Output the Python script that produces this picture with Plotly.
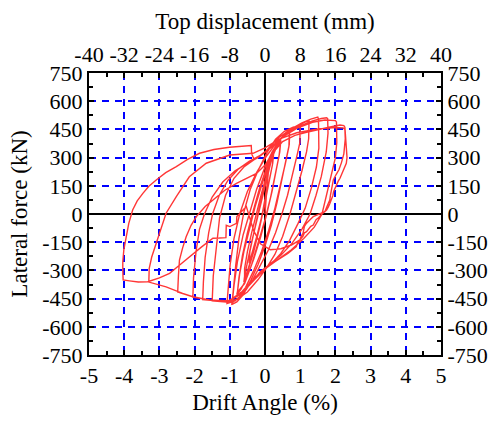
import numpy as np
import plotly.graph_objects as go

# ---------------- data (drift %, lateral force kN) ----------------
cycle_01_drift = [0.00, 0.04, 0.08, 0.10, 0.07, 0.00, -0.10, -0.22, -0.34, -0.45]
cycle_01_force = [0, 120, 200, 232, 170, 80, -20, -110, -190, -262]

cycle_02_drift = [-0.43, -0.36, -0.26, -0.15, -0.04, 0.08, 0.18, 0.25, 0.22, 0.12, 0.00, -0.15, -0.32, -0.48, -0.60]
cycle_02_force = [-200, -130, -50, 40, 130, 220, 290, 332, 270, 170, 60, -70, -200, -300, -362]

cycle_02b_drift = [-0.58, -0.50, -0.38, -0.24, -0.10, 0.04, 0.16, 0.24, 0.21, 0.10, -0.03, -0.18, -0.34, -0.48, -0.58]
cycle_02b_force = [-330, -250, -150, -40, 70, 180, 270, 318, 260, 160, 40, -90, -210, -300, -350]

cycle_03_drift = [-0.58, -0.50, -0.38, -0.25, -0.10, 0.05, 0.20, 0.34, 0.45, 0.42, 0.33, 0.20, 0.05, -0.12, -0.32, -0.52, -0.68, -0.80]
cycle_03_force = [-290, -200, -100, 0, 110, 210, 300, 360, 392, 330, 240, 120, 0, -120, -240, -340, -400, -428]

cycle_03b_drift = [-0.78, -0.72, -0.60, -0.45, -0.28, -0.10, 0.08, 0.25, 0.40, 0.44, 0.40, 0.30, 0.16, 0.00, -0.18, -0.38, -0.58, -0.78]
cycle_03b_force = [-410, -320, -200, -80, 40, 150, 250, 330, 375, 380, 310, 210, 90, -30, -150, -270, -370, -415]

cycle_04_drift = [-0.79, -0.74, -0.64, -0.50, -0.33, -0.15, 0.05, 0.25, 0.45, 0.62, 0.70, 0.69, 0.60, 0.48, 0.34, 0.18, 0.00, -0.20, -0.42, -0.62, -0.80, -0.95]
cycle_04_force = [-428, -340, -220, -100, 20, 140, 250, 340, 400, 432, 442, 370, 290, 180, 60, -60, -170, -270, -360, -430, -468, -482]

cycle_04b_drift = [-0.93, -0.88, -0.78, -0.62, -0.44, -0.24, -0.02, 0.20, 0.42, 0.60, 0.69, 0.68, 0.58, 0.44, 0.28, 0.10, -0.10, -0.32, -0.55, -0.75, -0.93]
cycle_04b_force = [-470, -380, -250, -110, 10, 130, 240, 330, 395, 425, 432, 360, 270, 150, 30, -90, -200, -300, -390, -445, -472]

cycle_05_drift = [-0.94, -0.90, -0.83, -0.74, -0.60, -0.42, -0.20, 0.05, 0.30, 0.55, 0.80, 1.00, 0.99, 0.92, 0.80, 0.64, 0.48, 0.30, 0.10, -0.12, -0.35, -0.60, -0.85, -1.08]
cycle_05_force = [-482, -390, -270, -130, 10, 130, 230, 325, 398, 440, 462, 470, 380, 320, 220, 100, 0, -100, -190, -270, -350, -420, -462, -476]

cycle_06_drift = [-1.08, -1.05, -0.99, -0.88, -0.72, -0.50, -0.24, 0.05, 0.35, 0.65, 0.95, 1.15, 1.25, 1.24, 1.18, 1.05, 0.88, 0.71, 0.50, 0.28, 0.05, -0.20, -0.50, -0.80, -1.10, -1.30, -1.50]
cycle_06_force = [-476, -390, -270, -130, 0, 120, 220, 310, 385, 435, 472, 490, 494, 400, 330, 230, 120, 0, -120, -215, -285, -350, -415, -455, -468, -466, -462]

cycle_07_drift = [-1.50, -1.47, -1.40, -1.29, -1.12, -0.88, -0.60, -0.30, 0.00, 0.35, 0.70, 1.05, 1.30, 1.50, 1.52, 1.53, 1.46, 1.32, 1.14, 0.94, 0.70, 0.45, 0.20, -0.05, -0.35, -0.70, -1.05, -1.40, -1.77]
cycle_07_force = [-462, -330, -200, -20, 100, 190, 250, 290, 330, 400, 448, 485, 505, 516, 505, 350, 250, 140, 30, -50, -140, -210, -260, -300, -360, -425, -463, -462, -456]

cycle_08_drift = [-1.77, -1.75, -1.70, -1.60, -1.49, -1.30, -1.05, -0.75, -0.45, -0.15, 0.20, 0.55, 0.95, 1.35, 1.60, 1.75, 1.78, 1.79, 1.74, 1.60, 1.45, 1.28, 1.05, 0.75, 0.45, 0.15, -0.15, -0.45, -0.80, -1.10, -1.55, -2.05]
cycle_08_force = [-456, -360, -230, -100, 0, 100, 180, 240, 280, 310, 360, 420, 465, 495, 508, 512, 508, 430, 330, 200, 100, 0, -80, -160, -220, -265, -310, -380, -440, -466, -458, -442]

cycle_09_drift = [-2.05, -2.03, -1.96, -1.86, -1.72, -1.50, -1.20, -0.85, -0.50, -0.20, 0.15, 0.55, 0.95, 1.35, 1.70, 2.00, 2.03, 2.04, 2.00, 1.88, 1.76, 1.62, 1.40, 1.10, 0.75, 0.40, 0.05, -0.30, -0.65, -1.00, -1.58, -2.05, -2.34, -2.48]
cycle_09_force = [-442, -340, -200, -80, 0, 90, 170, 230, 270, 300, 350, 415, 460, 488, 500, 497, 490, 380, 300, 200, 100, 0, -70, -130, -190, -240, -285, -350, -420, -462, -457, -440, -422, -415]

cycle_10_drift = [-2.48, -2.46, -2.43, -2.34, -2.24, -2.10, -1.95, -1.70, -1.48, -1.15, -0.81, -0.50, -0.24, 0.00, 0.20, 0.50, 0.85, 1.18, 1.50, 1.85, 2.13, 2.24, 2.27, 2.29, 2.31, 2.33, 2.31, 2.26, 2.21, 2.13, 2.08, 2.04, 1.99, 1.95, 1.93, 1.89, 1.84, 1.80, 1.75, 1.68, 1.61, 1.52, 1.45, 1.37, 1.30, 1.24, 1.18, 1.12, 1.08, 0.99, 0.93, 0.89, 0.65, 0.35, 0.05, -0.30, -0.65, -1.05, -1.58, -2.05, -2.34, -2.81, -3.30]
cycle_10_force = [-415, -330, -245, -180, -121, -60, -14, 40, 74, 125, 163, 192, 216, 260, 320, 385, 418, 435, 450, 463, 473, 470, 462, 420, 360, 300, 270, 245, 225, 190, 175, 158, 137, 120, 100, 74, 55, 38, 21, 10, -5, -20, -30, -59, -66, -80, -94, -100, -118, -138, -150, -174, -210, -245, -282, -340, -412, -466, -457, -440, -422, -388, -362]

cycle_11_drift = [-3.30, -3.29, -3.22, -3.09, -2.95, -2.81, -2.52, -2.15, -1.67, -1.00, -0.34, 0.00, 0.40, 0.90, 1.50, 2.00, 2.22, 2.27, 2.28, 2.24, 2.17, 2.10, 2.02, 1.94, 1.92, 1.88, 1.86, 1.84, 1.80, 1.76, 1.70, 1.62, 1.56, 1.45, 1.37, 1.30, 1.25, 1.18, 1.12, 1.08, 1.03, 0.99, 0.75, 0.45, 0.15, -0.12, -0.32, -0.45, -0.53, -0.66, -0.80, -0.81, -0.90, -1.00, -1.10, -1.11, -1.30, -1.48, -1.80, -2.15, -2.45, -2.71, -3.00, -3.33]
cycle_11_force = [-362, -290, -230, -156, -70, 4, 92, 198, 270, 314, 323, 352, 398, 432, 452, 460, 458, 450, 400, 320, 272, 235, 210, 181, 160, 130, 100, 74, 52, 40, 12, 6, 4, -5, -14, -26, -35, -49, -66, -103, -118, -138, -165, -185, -190, -160, -90, -10, 39, 15, -14, -50, -60, -67, -60, -126, -128, -129, -175, -227, -275, -316, -340, -360]

cycle_12_drift = [-3.33, -3.60, -3.85, -4.03, -4.04, -4.04, -4.01, -3.95, -3.87, -3.76, -3.63, -3.47, -3.30, -3.09, -2.82, -2.52, -2.20, -1.86, -1.45, -1.01, -0.70, -0.39, -0.38, -0.30]
cycle_12_force = [-360, -362, -356, -351, -300, -254, -190, -121, -50, 21, 70, 110, 148, 181, 220, 252, 290, 323, 343, 355, 360, 364, 320, 287]

drift_ticks = [-5, -4, -3, -2, -1, 0, 1, 2, 3, 4, 5]
drift_labels = ["-5", "-4", "-3", "-2", "-1", "0", "1", "2", "3", "4", "5"]
disp_ticks = [-40, -32, -24, -16, -8, 0, 8, 16, 24, 32, 40]
disp_labels = ["-40", "-32", "-24", "-16", "-8", "0", "8", "16", "24", "32", "40"]
force_ticks = [-750, -600, -450, -300, -150, 0, 150, 300, 450, 600, 750]
force_labels = ["-750", "-600", "-450", "-300", "-150", "0", "150", "300", "450", "600", "750"]

drift_all = np.concatenate([cycle_01_drift, cycle_02_drift, cycle_02b_drift, cycle_03_drift,
                            cycle_03b_drift, cycle_04_drift, cycle_04b_drift,
                            cycle_05_drift, cycle_06_drift, cycle_07_drift, cycle_08_drift,
                            cycle_09_drift, cycle_10_drift, cycle_11_drift, cycle_12_drift])
force_all = np.concatenate([cycle_01_force, cycle_02_force, cycle_02b_force, cycle_03_force,
                            cycle_03b_force, cycle_04_force, cycle_04b_force,
                            cycle_05_force, cycle_06_force, cycle_07_force, cycle_08_force,
                            cycle_09_force, cycle_10_force, cycle_11_force, cycle_12_force])

FONT = "Liberation Serif, Times New Roman, serif"
GRID = dict(showgrid=True, gridcolor="#0000ff", gridwidth=1.5, griddash="7px,6px")

fig = go.Figure()
fig.add_trace(go.Scatter(x=drift_all, y=force_all, mode="lines",
                         line=dict(color="#ff3636", width=1.4),
                         hoverinfo="skip", showlegend=False))
# helper trace so the secondary (top / right) axes are drawn
fig.add_trace(go.Scatter(x=disp_ticks, y=[None] * len(disp_ticks), xaxis="x2", yaxis="y2",
                         mode="lines", showlegend=False, hoverinfo="skip"))

common = dict(ticks="inside", ticklen=5, tickwidth=1.5, tickcolor="black",
              showline=True, linecolor="black", linewidth=2,
              tickfont=dict(family=FONT, size=22, color="black"))

fig.update_layout(
    width=495, height=425,
    margin=dict(l=89, r=54, t=73, b=70),
    paper_bgcolor="white", plot_bgcolor="white",
    font=dict(family=FONT, color="black"),
    xaxis=dict(range=[-5, 5], tickmode="array", tickvals=drift_ticks, ticktext=drift_labels,
               zeroline=True, zerolinecolor="black", zerolinewidth=2,
               minor=dict(ticks="inside", ticklen=4, dtick=0.5, tickcolor="black", showgrid=False),
               title=dict(text="Drift Angle (%)", font=dict(family=FONT, size=23), standoff=6),
               automargin=False, **GRID, **common),
    yaxis=dict(range=[-750, 750], tickmode="array", tickvals=force_ticks, ticktext=force_labels,
               zeroline=True, zerolinecolor="black", zerolinewidth=2,
               minor=dict(ticks="inside", ticklen=4, dtick=75, tickcolor="black", showgrid=False),
               title=dict(text="Lateral force (kN)", font=dict(family=FONT, size=23), standoff=8),
               automargin=False, **GRID, **common),
    xaxis2=dict(range=[-40, 40], overlaying="x", side="top", anchor="y",
                tickmode="array", tickvals=disp_ticks, ticktext=disp_labels,
                showgrid=False, zeroline=False,
                minor=dict(ticks="inside", ticklen=4, dtick=4, tickcolor="black", showgrid=False),
                title=dict(text="Top displacement (mm)", font=dict(family=FONT, size=23), standoff=6),
                automargin=False, **common),
    yaxis2=dict(range=[-750, 750], overlaying="y", side="right", anchor="x",
                tickmode="array", tickvals=force_ticks, ticktext=force_labels,
                showgrid=False, zeroline=False,
                minor=dict(ticks="inside", ticklen=4, dtick=75, tickcolor="black", showgrid=False),
                automargin=False, **common),
)

fig.write_html("out.html")
